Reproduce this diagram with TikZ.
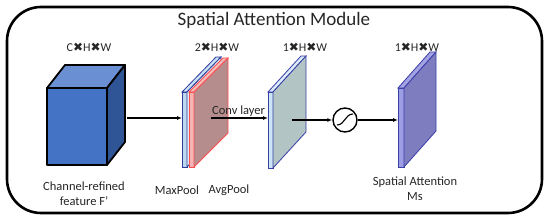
\documentclass[tikz,border=0pt]{standalone}
\usepackage{fontspec}
\setmainfont{Carlito}
\newfontfamily\symfont{DejaVu Sans}
\usetikzlibrary{arrows.meta, positioning}

% colours of the blocks
\definecolor{cubefront}{HTML}{4472C4}
\definecolor{cubetop}{HTML}{6A8FD3}
\definecolor{cubeside}{HTML}{2F5597}
\definecolor{cubeedge}{HTML}{000000}
\definecolor{maxfront}{HTML}{BDD7EE}
\definecolor{maxtop}{HTML}{C9E0F4}
\definecolor{maxside}{HTML}{DEEBF7}
\definecolor{maxedge}{HTML}{2E3C9C}
\definecolor{avgfront}{HTML}{F4B4B4}
\definecolor{avgtop}{HTML}{F2BDBD}
\definecolor{avgside}{HTML}{B58D8D}
\definecolor{avgedge}{HTML}{FF4D4D}
\definecolor{convfront}{HTML}{CCE5F5}
\definecolor{convtop}{HTML}{D9ECF8}
\definecolor{convside}{HTML}{B3C4C4}
\definecolor{convedge}{HTML}{3B3FA8}
\definecolor{msfront}{HTML}{9D9DE3}
\definecolor{mstop}{HTML}{A3A3E3}
\definecolor{msside}{HTML}{7D7DC0}
\definecolor{msedge}{HTML}{3B3FA8}

\newcommand{\by}{{\symfont ✖}}

% box: name, x, y, width, height, depth x, depth rise, colour prefix
\newcommand{\prism}[8]{%
  \coordinate (#1) at (#2,#3);
  \filldraw[fill=#8front, draw=#8edge] (#2,#3) rectangle (#2+#4,#3+#5);
  \filldraw[fill=#8top, draw=#8edge] (#2,#3) -- (#2+#6,#3-#7) -- (#2+#4+#6,#3-#7) -- (#2+#4,#3) -- cycle;
  \filldraw[fill=#8side, draw=#8edge] (#2+#4,#3) -- (#2+#4+#6,#3-#7) -- (#2+#4+#6,#3+#5-#7) -- (#2+#4,#3+#5) -- cycle;
}

\begin{document}
\begin{tikzpicture}[
        x=1pt, y=-1pt,
        every node/.style={text=black!85},
        dimlabel/.style={font=\fontsize{12}{14}\selectfont, inner sep=0pt},
        caption/.style={font=\fontsize{12.5}{15}\selectfont, align=center, inner sep=0pt},
        sigmoid/.style={circle, draw, line width=1.4pt, minimum size=24pt, inner sep=0pt},
        arrow/.style={-{Latex[length=5pt,width=4pt]}, line width=1.4pt}
    ]
        \useasboundingbox (0,0) rectangle (550,222);

        % Frame and title
        \draw[line width=2.6pt, rounded corners=34pt] (7,7) rectangle (542,213);
        \node[font=\fontsize{19}{22}\selectfont, inner sep=0pt] (title) at (274,20) {Spatial Attention Module};

        % Blocks
        \begin{scope}[line width=1.8pt, line join=round]
            \prism{cube}{47}{88}{60}{77}{18}{23}{cube}
        \end{scope}
        \begin{scope}[line width=0.8pt]
            \prism{maxpool}{182}{92}{5}{75}{34}{35}{max}
            \prism{avgpool}{189}{92}{5}{75}{34}{34}{avg}
            \prism{conv}{268}{92}{5}{76}{33}{36}{conv}
            \prism{ms}{398}{88}{6}{79}{32}{36}{ms}
        \end{scope}

        % Sigmoid
        \node[sigmoid] (sig) at (345,120) {};
        \draw[line width=1.1pt] (337,125) .. controls (345,125) and (345,114) .. (353,114);

        % Labels
        \node[dimlabel] (cubedim) at (89,47) {C\by H\by W};
        \node[dimlabel] (pooldim) at (217,47) {2\by H\by W};
        \node[dimlabel] (convdim) at (305,47) {1\by H\by W};
        \node[dimlabel] (msdim) at (417,47) {1\by H\by W};
        \node[caption] (cubecap) at (84,194) {Channel-refined\\feature F'};
        \node[caption] (maxcap) at (177,190) {MaxPool};
        \node[caption] (avgcap) at (229,190) {AvgPool};
        \node[caption] (mscap) at (415,189) {Spatial Attention\\Ms};

        % Arrows
        \coordinate (cubeout) at (127,118);
        \coordinate (maxin) at (182,118);
        \coordinate (convstart) at (211,118);
        \coordinate (convin) at (268,118);
        \coordinate (convout) at (292,120);
        \coordinate (msin) at (398,120);
        \draw[arrow] (cubeout) -- (maxin);
        \draw[arrow] (convstart) -- (convin);
        \node[caption, anchor=base west] (convcap) at (212,115) {Conv layer};
        \draw[arrow] (convout) -- (sig.west);
        \draw[arrow] (sig.east) -- (msin);

\end{tikzpicture}
\end{document}
